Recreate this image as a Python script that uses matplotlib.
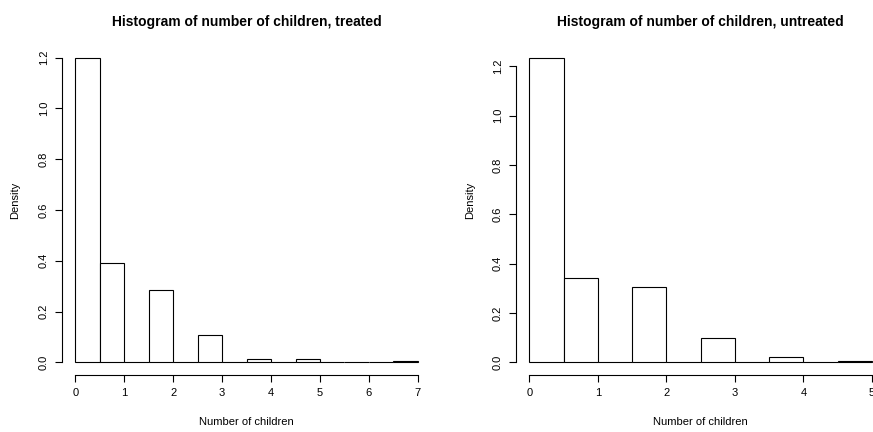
import matplotlib
matplotlib.use("Agg")
import matplotlib.pyplot as plt
import numpy as np

plt.rcParams['font.family'] = ['Liberation Sans', 'DejaVu Sans']

# histogram densities, bins of width 0.5
treated_edges = np.arange(0, 7.5, 0.5)
treated_density = [1.2, 0.39, 0, 0.285, 0, 0.106, 0, 0.012, 0, 0.012, 0, 0, 0, 0.005]
untreated_edges = np.arange(0, 5.5, 0.5)
untreated_density = [1.235, 0.343, 0, 0.304, 0, 0.097, 0, 0.02, 0, 0.005]

yticks = [0.0, 0.2, 0.4, 0.6, 0.8, 1.0, 1.2]

W, H = 873, 432
fig = plt.figure(figsize=(W / 100, H / 100), dpi=100)


def panel(left_px, edges, density, title, dens_x):
    xmax = edges[-1]
    ymax = max(density)
    xpad = 0.04 * xmax
    ypad = 0.04 * ymax
    ax = fig.add_axes([left_px / W, (H - 374.5) / H, 370 / W, 329 / H])
    ax.bar(edges[:-1], density, width=0.5, align='edge', color='white',
           edgecolor='black', linewidth=0.8)
    ax.set_xlim(-xpad, xmax + xpad)
    ax.set_ylim(-ypad, ymax + ypad)
    for s in ['top', 'right']:
        ax.spines[s].set_visible(False)
    ax.spines['bottom'].set_bounds(0, xmax)
    ax.spines['left'].set_bounds(0, 1.2)
    ax.spines['bottom'].set_linewidth(0.8)
    ax.spines['left'].set_linewidth(0.8)
    ax.set_xticks(np.arange(0, xmax + 1))
    ax.set_yticks(yticks)
    ax.set_yticklabels(['%.1f' % v for v in yticks], rotation=90, va='center')
    ax.tick_params(length=5, width=0.8, labelsize=8, pad=4)
    ax.tick_params(axis='x', pad=5)
    ax.set_title(title, fontsize=10, fontweight='bold', pad=14)
    fig.text(dens_x / W, (H - 200) / H, 'Density', rotation=90,
             ha='center', va='center', fontsize=8)
    fig.text((left_px + 185) / W, (H - 422) / H, 'Number of children',
             ha='center', va='center', fontsize=8)
    return ax


panel(61.6, treated_edges, treated_density,
      'Histogram of number of children, treated', 15)
panel(515.6, untreated_edges, untreated_density,
      'Histogram of number of children, untreated', 470)

fig.savefig('out.png', dpi=100)
